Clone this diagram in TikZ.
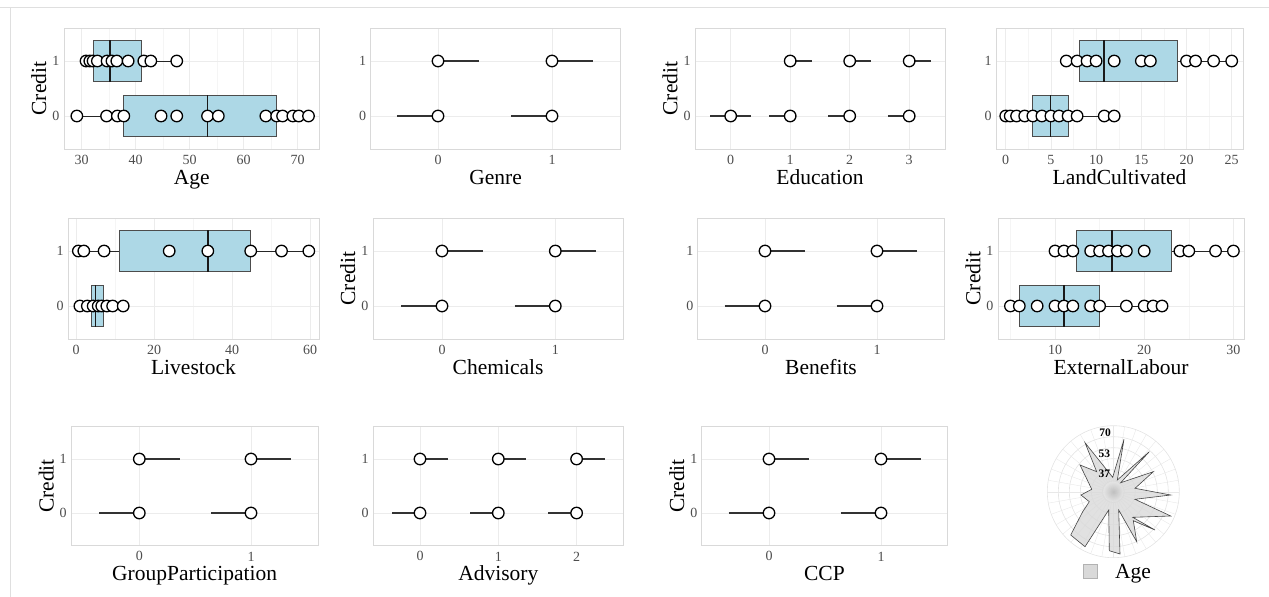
\documentclass[tikz,border=0pt]{standalone}
\usepackage{fontspec}
\setmainfont{Liberation Serif}
\usepackage{tikz}
\usetikzlibrary{calc}
\definecolor{boxblue}{RGB}{173,216,230}
\definecolor{tickgray}{RGB}{77,77,77}
\tikzset{
  gridmaj/.style={draw=gray!15, line width=0.6pt},
  gridmin/.style={draw=gray!8, line width=0.4pt},
  panelbox/.style={draw=gray!30, line width=0.7pt},
  ticklab/.style={text=tickgray, font=\fontsize{14}{14}\selectfont, inner sep=0pt},
  axtitle/.style={font=\fontsize{21.5}{21.5}\selectfont, inner sep=0pt},
  dot/.style={circle, draw=black, fill=white, line width=1.3pt, minimum size=11.5pt, inner sep=0pt},
  whisk/.style={draw=black!85, line width=1pt},
  boxfill/.style={fill=boxblue, draw=gray!60!black, line width=0.9pt},
  median/.style={draw=black!90, line width=1.5pt},
  catline/.style={draw=black!80, line width=1.9pt},
  frameline/.style={draw=gray!25, line width=0.8pt},
  radarfill/.style={fill=gray!30, fill opacity=0.8, draw=gray!55!black, line width=0.6pt},
  radarlab/.style={font=\fontsize{11.5}{11.5}\selectfont\bfseries, inner sep=0pt},
  legkey/.style={draw=gray!60, fill=gray!30, minimum size=14pt, inner sep=0pt},
}
% frame of one panel: name, xmin, xmax, title
\newcommand{\plotframe}[4]{%
  \draw[gridmaj] (#2,0) -- (#3,0) (#2,1) -- (#3,1);
  \draw[panelbox] (#2,-0.6) rectangle (#3,1.6);
  \node[ticklab, xshift=-8pt] (#1-y1) at (#2,1) {1};
  \node[ticklab, xshift=-8pt] (#1-y0) at (#2,0) {0};
  \node[axtitle, anchor=base, yshift=-35pt] (#1-title) at ({(#2+#3)/2},-0.6) {#4};
}

\begin{document}
\begin{tikzpicture}[x=1pt, y=-1pt]
\useasboundingbox (0,0) rectangle (1269,597);
\draw[frameline] (0,7) -- (1269,7);
\draw[frameline] (10,7) -- (10,597);

% ---------- Age
\begin{scope}[shift={(-80.3,116)}, x=5.4pt, y=55pt]
  \foreach \g in {35,45,55,65} \draw[gridmin] (\g,-0.6) -- (\g,1.6);
  \foreach \g in {30,40,...,70} {\draw[gridmaj] (\g,-0.6) -- (\g,1.6); \node[ticklab, yshift=-11pt] (age-x\g) at (\g,-0.6) {\g};}
  \plotframe{age}{26.7}{74.1}{Age}
  \node[axtitle, xshift=-25pt, rotate=90] (age-credit) at (26.7,0.5) {Credit};
  \draw[whisk] (30.8,1) -- (47.6,1);
  \draw[boxfill] (32.1,0.625) rectangle (41,1.375);
  \draw[median] (35.2,0.625) -- (35.2,1.375);
  \foreach \v [count=\i] in {30.8,31.5,32.1,32.9,34.7,35.6,36.5,38.6,41.5,42.8,47.6} \node[dot] (age-a\i) at (\v,1) {};
  \draw[whisk] (29.1,0) -- (72,0);
  \draw[boxfill] (37.7,-0.375) rectangle (66.1,0.375);
  \draw[median] (53.3,-0.375) -- (53.3,0.375);
  \foreach \v [count=\i] in {29.1,34.6,36.6,37.8,44.7,47.6,53.3,55.3,64.1,66.1,67.2,69.1,70.2,72} \node[dot] (age-b\i) at (\v,0) {};
\end{scope}

% ---------- Genre
\begin{scope}[shift={(438,116)}, x=114pt, y=55pt]
  \foreach \g in {0,1} {\draw[gridmaj] (\g,-0.6) -- (\g,1.6); \node[ticklab, yshift=-11pt] (gen-x\g) at (\g,-0.6) {\g};}
  \plotframe{gen}{-0.59}{1.6}{Genre}
  \foreach \g in {0,1} {
    \draw[catline] (\g,1) -- (\g+0.36,1);
    \draw[catline] (\g-0.36,0) -- (\g,0);
    \node[dot] (gen-a\g) at (\g,1) {};
    \node[dot] (gen-b\g) at (\g,0) {};
  }
\end{scope}

% ---------- Education
\begin{scope}[shift={(730.7,116)}, x=59.5pt, y=55pt]
  \foreach \g in {0,...,3} {\draw[gridmaj] (\g,-0.6) -- (\g,1.6); \node[ticklab, yshift=-11pt] (edu-x\g) at (\g,-0.6) {\g};}
  \plotframe{edu}{-0.6}{3.6}{Education}
  \node[axtitle, xshift=-25pt, rotate=90] (edu-credit) at (-0.6,0.5) {Credit};
  \draw[catline] (-0.34,0) -- (0.34,0);
  \node[dot] (edu-b0) at (0,0) {};
  \foreach \g in {1,2,3} {
    \draw[catline] (\g,1) -- (\g+0.36,1);
    \draw[catline] (\g-0.36,0) -- (\g,0);
    \node[dot] (edu-a\g) at (\g,1) {};
    \node[dot] (edu-b\g) at (\g,0) {};
  }
\end{scope}

% ---------- LandCultivated
\begin{scope}[shift={(1005.7,116)}, x=9.04pt, y=55pt]
  \foreach \g in {2.5,7.5,...,22.5} \draw[gridmin] (\g,-0.6) -- (\g,1.6);
  \foreach \g in {0,5,...,25} {\draw[gridmaj] (\g,-0.6) -- (\g,1.6); \node[ticklab, yshift=-11pt] (land-x\g) at (\g,-0.6) {\g};}
  \plotframe{land}{-1.07}{26.25}{LandCultivated}
  \draw[whisk] (6.7,1) -- (25,1);
  \draw[boxfill] (8.14,0.625) rectangle (19,1.375);
  \draw[median] (10.9,0.625) -- (10.9,1.375);
  \foreach \v [count=\i] in {6.7,7.9,9,10,12,15,16,20,21,23,25} \node[dot] (land-a\i) at (\v,1) {};
  \draw[whisk] (0,0) -- (12,0);
  \draw[boxfill] (2.95,-0.375) rectangle (6.97,0.375);
  \draw[median] (4.95,-0.375) -- (4.95,0.375);
  \foreach \v [count=\i] in {0,0.5,1.2,2.1,3,4,5,5.9,6.9,7.9,10.9,12} \node[dot] (land-b\i) at (\v,0) {};
\end{scope}

% ---------- Livestock
\begin{scope}[shift={(76,306)}, x=3.9pt, y=55pt]
  \foreach \g in {10,30,50} \draw[gridmin] (\g,-0.6) -- (\g,1.6);
  \foreach \g in {0,20,40,60} {\draw[gridmaj] (\g,-0.6) -- (\g,1.6); \node[ticklab, yshift=-11pt] (live-x\g) at (\g,-0.6) {\g};}
  \plotframe{live}{-2.05}{62.3}{Livestock}
  \draw[whisk] (0.6,1) -- (59.7,1);
  \draw[boxfill] (11.1,0.625) rectangle (44.8,1.375);
  \draw[median] (33.8,0.625) -- (33.8,1.375);
  \foreach \v [count=\i] in {0.6,2,7.2,23.9,33.8,44.8,52.7,59.7} \node[dot] (live-a\i) at (\v,1) {};
  \draw[whisk] (1,0) -- (12.1,0);
  \draw[boxfill] (4,-0.375) rectangle (7,0.375);
  \draw[median] (5,-0.375) -- (5,0.375);
  \foreach \v [count=\i] in {1,2.9,4.4,5.7,6.6,7.9,9.4,12.1} \node[dot] (live-b\i) at (\v,0) {};
\end{scope}

% ---------- Chemicals
\begin{scope}[shift={(442,306)}, x=113.3pt, y=55pt]
  \foreach \g in {0,1} {\draw[gridmaj] (\g,-0.6) -- (\g,1.6); \node[ticklab, yshift=-11pt] (chem-x\g) at (\g,-0.6) {\g};}
  \plotframe{chem}{-0.61}{1.6}{Chemicals}
  \node[axtitle, xshift=-25pt, rotate=90] (chem-credit) at (-0.61,0.5) {Credit};
  \foreach \g in {0,1} {
    \draw[catline] (\g,1) -- (\g+0.36,1);
    \draw[catline] (\g-0.36,0) -- (\g,0);
    \node[dot] (chem-a\g) at (\g,1) {};
    \node[dot] (chem-b\g) at (\g,0) {};
  }
\end{scope}

% ---------- Benefits
\begin{scope}[shift={(765,306)}, x=112pt, y=55pt]
  \foreach \g in {0,1} {\draw[gridmaj] (\g,-0.6) -- (\g,1.6); \node[ticklab, yshift=-11pt] (ben-x\g) at (\g,-0.6) {\g};}
  \plotframe{ben}{-0.6}{1.6}{Benefits}
  \foreach \g in {0,1} {
    \draw[catline] (\g,1) -- (\g+0.36,1);
    \draw[catline] (\g-0.36,0) -- (\g,0);
    \node[dot] (ben-a\g) at (\g,1) {};
    \node[dot] (ben-b\g) at (\g,0) {};
  }
\end{scope}

% ---------- ExternalLabour
\begin{scope}[shift={(965.8,306)}, x=8.92pt, y=55pt]
  \foreach \g in {5,15,25} \draw[gridmin] (\g,-0.6) -- (\g,1.6);
  \foreach \g in {10,20,30} {\draw[gridmaj] (\g,-0.6) -- (\g,1.6); \node[ticklab, yshift=-11pt] (ext-x\g) at (\g,-0.6) {\g};}
  \plotframe{ext}{3.6}{31.2}{ExternalLabour}
  \node[axtitle, xshift=-25pt, rotate=90] (ext-credit) at (3.6,0.5) {Credit};
  \draw[whisk] (10,1) -- (30,1);
  \draw[boxfill] (12.4,0.625) rectangle (23,1.375);
  \draw[median] (16.4,0.625) -- (16.4,1.375);
  \foreach \v [count=\i] in {10,11,12,14,15,16,17,18,20,24,25,28,30} \node[dot] (ext-a\i) at (\v,1) {};
  \draw[whisk] (5,0) -- (22,0);
  \draw[boxfill] (6,-0.375) rectangle (15,0.375);
  \draw[median] (11,-0.375) -- (11,0.375);
  \foreach \v [count=\i] in {5,6,8,10,11,12,14,15,18,20,21,22} \node[dot] (ext-b\i) at (\v,0) {};
\end{scope}

% ---------- GroupParticipation
\begin{scope}[shift={(139.3,513)}, x=111.7pt, y=54pt]
  \foreach \g in {0,1} {\draw[gridmaj] (\g,-0.6) -- (\g,1.6); \node[ticklab, yshift=-11pt] (grp-x\g) at (\g,-0.6) {\g};}
  \plotframe{grp}{-0.61}{1.6}{GroupParticipation}
  \node[axtitle, xshift=-25pt, rotate=90] (grp-credit) at (-0.61,0.5) {Credit};
  \foreach \g in {0,1} {
    \draw[catline] (\g,1) -- (\g+0.36,1);
    \draw[catline] (\g-0.36,0) -- (\g,0);
    \node[dot] (grp-a\g) at (\g,1) {};
    \node[dot] (grp-b\g) at (\g,0) {};
  }
\end{scope}

% ---------- Advisory
\begin{scope}[shift={(420,513)}, x=78.3pt, y=54pt]
  \foreach \g in {0,1,2} {\draw[gridmaj] (\g,-0.6) -- (\g,1.6); \node[ticklab, yshift=-11pt] (adv-x\g) at (\g,-0.6) {\g};}
  \plotframe{adv}{-0.6}{2.6}{Advisory}
  \foreach \g in {0,1,2} {
    \draw[catline] (\g,1) -- (\g+0.36,1);
    \draw[catline] (\g-0.36,0) -- (\g,0);
    \node[dot] (adv-a\g) at (\g,1) {};
    \node[dot] (adv-b\g) at (\g,0) {};
  }
\end{scope}

% ---------- CCP
\begin{scope}[shift={(769,513)}, x=112pt, y=54pt]
  \foreach \g in {0,1} {\draw[gridmaj] (\g,-0.6) -- (\g,1.6); \node[ticklab, yshift=-11pt] (ccp-x\g) at (\g,-0.6) {\g};}
  \plotframe{ccp}{-0.6}{1.59}{CCP}
  \node[axtitle, xshift=-25pt, rotate=90] (ccp-credit) at (-0.6,0.5) {Credit};
  \foreach \g in {0,1} {
    \draw[catline] (\g,1) -- (\g+0.36,1);
    \draw[catline] (\g-0.36,0) -- (\g,0);
    \node[dot] (ccp-a\g) at (\g,1) {};
    \node[dot] (ccp-b\g) at (\g,0) {};
  }
\end{scope}

% ---------- radar of Age
\coordinate (rc) at (1113.3,491.7);
\foreach \r in {11,22,33,44,55,66} \draw[gridmaj, draw=gray!22] (rc) circle[radius=\r pt];
\foreach \a in {0,10,...,350} \draw[gridmin, draw=gray!18] (rc) -- ++(\a:66pt);
\draw[radarfill] (1124,439.3) -- (1117.3,480) -- (1149.3,451.7) -- (1120.7,482.7)
  -- (1153.3,471.7) -- (1135,488.3) -- (1170.7,495) -- (1135,499.3)
  -- (1170.7,516) -- (1132.7,517.3) -- (1155,530) -- (1133.3,520.7)
  -- (1136.7,541.7) -- (1118.7,510) -- (1120,554) -- (1109.3,550.7)
  -- (1108.7,510) -- (1085,546.7) -- (1070.7,535) -- (1082.7,511.7)
  -- (1089.3,501.7) -- (1081,495) -- (1091.7,489.3) -- (1087.3,480)
  -- (1080,465) -- (1096.7,471.7) -- (1085,442.7) -- (1112.7,477.3) -- cycle;
\shade[inner color=gray!55, outer color=gray!20, opacity=0.8] (rc) circle[radius=10pt];
\node[radarlab] (r70) at (1105,433) {70};
\node[radarlab] (r53) at (1104.3,453.3) {53};
\node[radarlab] (r37) at (1104.3,473.3) {37};
\node[legkey] (key) at (1090.5,570.8) {};
\node[axtitle, anchor=base west] (keytext) at (1115,578.3) {Age};
\end{tikzpicture}
\end{document}
